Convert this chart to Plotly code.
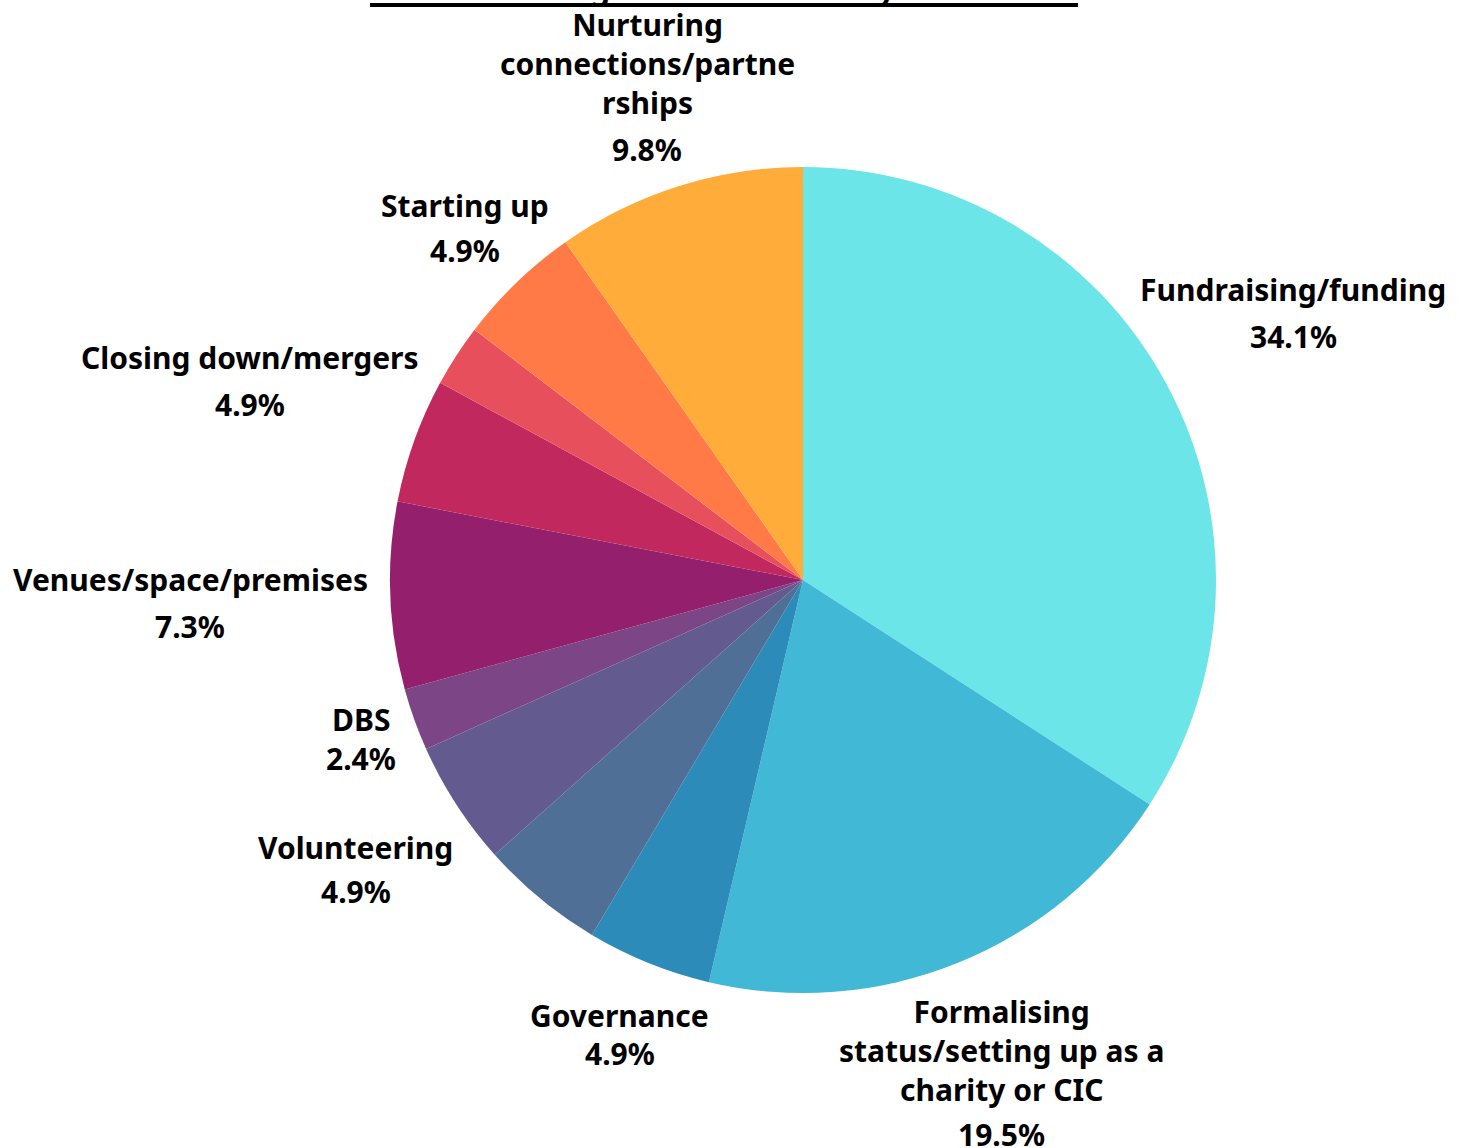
import math
import plotly.graph_objects as go

categories = [
    "Fundraising/funding",
    "Formalising status/setting up as a charity or CIC",
    "Governance",
    "Unlabelled area A",
    "Volunteering",
    "DBS",
    "Venues/space/premises",
    "Closing down/mergers",
    "Unlabelled area B",
    "Starting up",
    "Nurturing connections/partnerships",
]
display_labels = [
    "Fundraising/funding",
    "Formalising<br>status/setting up as a<br>charity or CIC",
    "Governance",
    "",
    "Volunteering",
    "DBS",
    "Venues/space/premises",
    "Closing down/mergers",
    "",
    "Starting up",
    "Nurturing<br>connections/partne<br>rships",
]
counts = [14, 8, 2, 2, 2, 1, 3, 2, 1, 2, 4]
colors = ["#6ce5e8", "#41b8d5", "#2d8bba", "#4f6f97", "#635b8f", "#7c4686",
          "#941f6d", "#c0285e", "#e84f5c", "#ff7a47", "#ffac3b"]
title_text = "Total learning areas identified by members"

# label placement styles (distance of label block centre from pie centre, px;
# gap between last label line and percentage line, px)
label_dist = [558, 532, 490, 0, 533, 470, 613, 588, 0, 488, 517]
pct_gap = [47, 45, 38, 0, 44, 39, 47, 47, 0, 45, 47]

W, H = 1465, 1148
cx, cy, r = 803, 580, 413
FONT = "Noto Sans"
FS = 30
LINE = 1.3 * FS

fig = go.Figure(go.Pie(
    labels=categories,
    values=counts,
    textinfo="none",
    sort=False,
    direction="clockwise",
    rotation=0,
    marker=dict(colors=colors, line=dict(width=0)),
    domain=dict(x=[(cx - r) / W, (cx + r) / W], y=[(H - cy - r) / H, (H - cy + r) / H]),
    automargin=False,
    showlegend=False,
    hoverinfo="label+percent",
))

total = sum(counts)
cum = 0
for lab, v, d, gap in zip(display_labels, counts, label_dist, pct_gap):
    mid = (cum + v / 2) / total * 2 * math.pi
    cum += v
    if not lab:
        continue
    bx = cx + d * math.sin(mid)
    by = cy - d * math.cos(mid)
    n = lab.count("<br>") + 1
    span = (n - 1) * LINE + gap
    first_center = by - span / 2
    label_center = first_center + (n - 1) * LINE / 2
    pct_center = by + span / 2
    fig.add_annotation(
        text=f"<b>{lab}</b>", xref="paper", yref="paper",
        x=bx / W, y=1 - label_center / H, xanchor="center", yanchor="middle",
        showarrow=False, font=dict(family=FONT, size=FS, color="#000000"),
    )
    fig.add_annotation(
        text=f"<b>{v / total * 100:.1f}%</b>", xref="paper", yref="paper",
        x=bx / W, y=1 - pct_center / H, xanchor="center", yanchor="middle",
        showarrow=False, font=dict(family=FONT, size=FS, color="#000000"),
    )

fig.add_annotation(
    text=f"<b>{title_text}</b>", xref="paper", yref="paper", x=724 / W, y=1,
    xanchor="center", yanchor="bottom", yshift=-11, showarrow=False,
    font=dict(family=FONT, size=30, color="#000000"),
)
fig.add_shape(type="line", xref="paper", yref="paper", x0=370 / W, x1=1078 / W,
              y0=1 - 5 / H, y1=1 - 5 / H, line=dict(color="#000000", width=4))

fig.update_layout(
    width=W, height=H, margin=dict(l=0, r=0, t=0, b=0),
    paper_bgcolor="white", plot_bgcolor="white",
)
fig.write_html("out.html")
